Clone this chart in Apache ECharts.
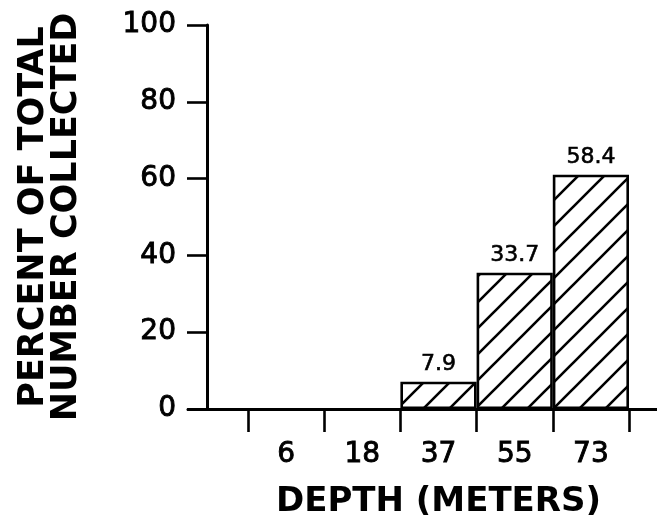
<!DOCTYPE html>
<html><head><meta charset="utf-8">
<script src="https://cdn.jsdelivr.net/npm/echarts@6/dist/echarts.min.js"></script>
<style>html,body{margin:0;padding:0;background:#fff}#c{width:657px;height:515px}</style>
</head><body><div id="c"></div>
<script>
// Data
const depthCategories = ['6', '18', '37', '55', '73'];
const barHeights = [0, 0, 7.1, 35.5, 61.0];          // bar tops as drawn
const barLabels = ['', '', '7.9', '33.7', '58.4'];    // printed values
const yMin = 0, yMax = 100, yInterval = 20;
const xAxisTitle = 'DEPTH (METERS)';
const yAxisTitle = 'PERCENT OF TOTAL\nNUMBER COLLECTED';

function hatch() {
  const s = 26;
  const c = document.createElement('canvas');
  c.width = s; c.height = s;
  const g = c.getContext('2d');
  g.fillStyle = '#fff'; g.fillRect(0, 0, s, s);
  g.strokeStyle = '#000'; g.lineWidth = 2.6; g.lineCap = 'square';
  g.beginPath();
  g.moveTo(0, s); g.lineTo(s, 0);
  g.moveTo(-s / 2, s / 2); g.lineTo(s / 2, -s / 2);
  g.moveTo(s / 2, s * 1.5); g.lineTo(s * 1.5, s / 2);
  g.stroke();
  return c;
}

const FONT = 'DejaVu Sans';
const numStyle = { color: '#000', fontFamily: FONT, textBorderColor: '#000', textBorderWidth: 0.9 };
const chart = echarts.init(document.getElementById('c'), null, { renderer: 'canvas' });
chart.setOption({
  animation: false,
  backgroundColor: '#fff',
  grid: [
    { left: 248, right: 28, top: 25, bottom: 106, containLabel: false, outerBoundsMode: 'none' },
    { left: 188, right: 0, top: 25, bottom: 106, containLabel: false, outerBoundsMode: 'none' }
  ],
  xAxis: [{
    gridIndex: 0,
    type: 'category',
    data: depthCategories,
    boundaryGap: true,
    axisLine: { show: false },
    axisTick: { show: true, length: 23, lineStyle: { color: '#000', width: 2.6 } },
    axisLabel: Object.assign({ fontSize: 28, margin: 32 }, numStyle),
    name: xAxisTitle,
    nameLocation: 'middle',
    nameGap: 76,
    nameTextStyle: { color: '#000', fontFamily: FONT, fontSize: 34, fontWeight: 'bold' }
  }, {
    gridIndex: 1,
    type: 'value', min: 0, max: 1,
    axisLine: { show: true, lineStyle: { color: '#000', width: 3 } },
    axisTick: { show: false }, axisLabel: { show: false }, splitLine: { show: false }
  }],
  yAxis: [{
    gridIndex: 0,
    type: 'value',
    min: yMin, max: yMax, interval: yInterval,
    offset: 41,
    axisLine: { show: true, lineStyle: { color: '#000', width: 3 } },
    axisTick: { show: true, length: 20, lineStyle: { color: '#000', width: 2.6 } },
    axisLabel: Object.assign({ fontSize: 28, margin: 31 }, numStyle),
    splitLine: { show: false },
    name: yAxisTitle,
    nameLocation: 'middle',
    nameRotate: 90,
    nameGap: 124,
    nameTextStyle: { color: '#000', fontFamily: FONT, fontSize: 35, fontWeight: 'bold', lineHeight: 33, align: 'center' }
  }, {
    gridIndex: 1, type: 'value', show: false, min: 0, max: 1
  }],
  series: [{
    type: 'bar',
    xAxisIndex: 0, yAxisIndex: 0,
    data: barHeights.map(v => ({ value: v, itemStyle: { borderWidth: v === 0 ? 0 : 2.6 } })),
    barCategoryGap: '0%',
    itemStyle: {
      color: { image: hatch(), repeat: 'repeat' },
      borderColor: '#000', borderWidth: 2.6
    },
    label: {
      show: true, position: 'top', distance: 6,
      formatter: p => barLabels[p.dataIndex],
      fontSize: 22,
      color: '#000', fontFamily: FONT, textBorderColor: '#000', textBorderWidth: 0.6
    }
  }]
});
</script></body></html>
